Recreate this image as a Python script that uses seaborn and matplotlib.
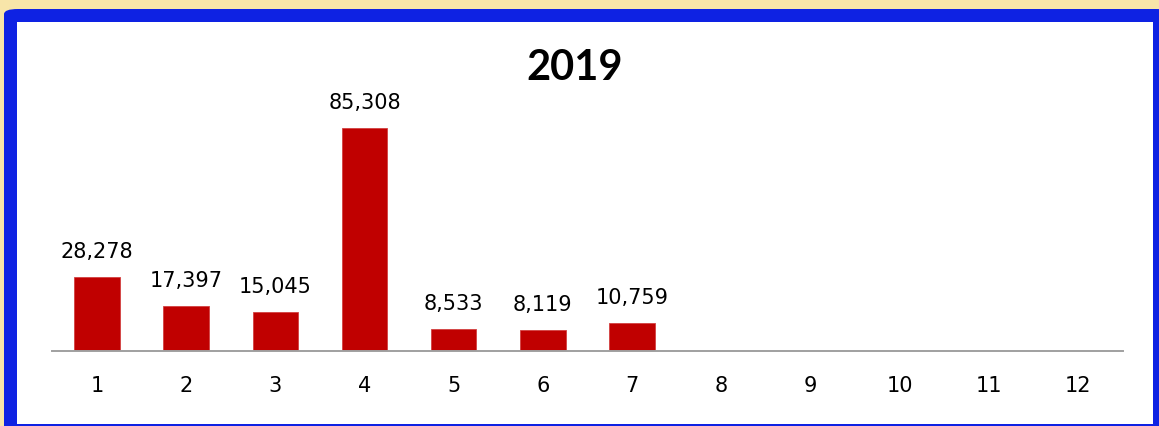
import matplotlib
matplotlib.use("Agg")
import matplotlib.pyplot as plt
from matplotlib.patches import Rectangle, FancyBboxPatch
import seaborn as sns
import pandas as pd

months = ["1", "2", "3", "4", "5", "6", "7", "8", "9", "10", "11", "12"]
data_months = ["1", "2", "3", "4", "5", "6", "7"]
values = [28278, 17397, 15045, 85308, 8533, 8119, 10759]
title = "2019"

W, H = 1159, 426
sns.set_theme(style="white")
plt.rcParams["font.family"] = ["DejaVu Sans"]

fig = plt.figure(figsize=(W / 100, H / 100), dpi=100)
fig.patch.set_facecolor("#F8E5A9")

# blue frame and white panel (figure pixel coords -> fractions)
def fx(px):
    return px / W

def fy(py):
    return 1 - py / H

outer = FancyBboxPatch((fx(4), fy(440)), fx(1170) - fx(4), fy(9) - fy(440),
                       boxstyle="round,pad=0,rounding_size=0.012",
                       transform=fig.transFigure, facecolor="#0E22E3",
                       edgecolor="none", zorder=-2)
fig.patches.append(outer)
inner = Rectangle((fx(17), fy(424)), fx(1153) - fx(17), fy(22) - fy(424),
                  transform=fig.transFigure, facecolor="white",
                  edgecolor="none", zorder=-1)
fig.patches.append(inner)

ymax = 96000
px_per_unit = 223 / 85308
ax_h_px = ymax * px_per_unit
ax = fig.add_axes([fx(52.4), fy(351), fx(1122.6) - fx(52.4), ax_h_px / H])
ax.set_zorder(5)
ax.patch.set_alpha(0)

df = pd.DataFrame({"month": data_months, "value": values})
sns.barplot(data=df, x="month", y="value", order=months, color="#C00000",
            saturation=1, width=0.51, ax=ax, edgecolor="#D24040", linewidth=0.6)

ax.set_xlim(-0.5, 11.5)
ax.set_ylim(0, ymax)
for s in ["top", "right", "left"]:
    ax.spines[s].set_visible(False)
ax.spines["bottom"].set_color("#A0A0A0")
ax.spines["bottom"].set_linewidth(1.4)
ax.set_yticks([])
ax.set_xlabel("")
ax.set_ylabel("")
ax.tick_params(axis="x", length=0, pad=18, labelsize=15, labelcolor="black")

for i, v in enumerate(values):
    ax.annotate(f"{v:,}", (i, v), xytext=(0, 18), textcoords="offset points",
                ha="center", va="center", fontsize=15, color="black")

fig.text(fx(575), fy(68), title, ha="center", va="center", fontsize=30,
         fontweight="bold", family=["Lato", "DejaVu Sans"], color="black",
         zorder=6)

fig.savefig("out.png", dpi=100, facecolor=fig.get_facecolor())
